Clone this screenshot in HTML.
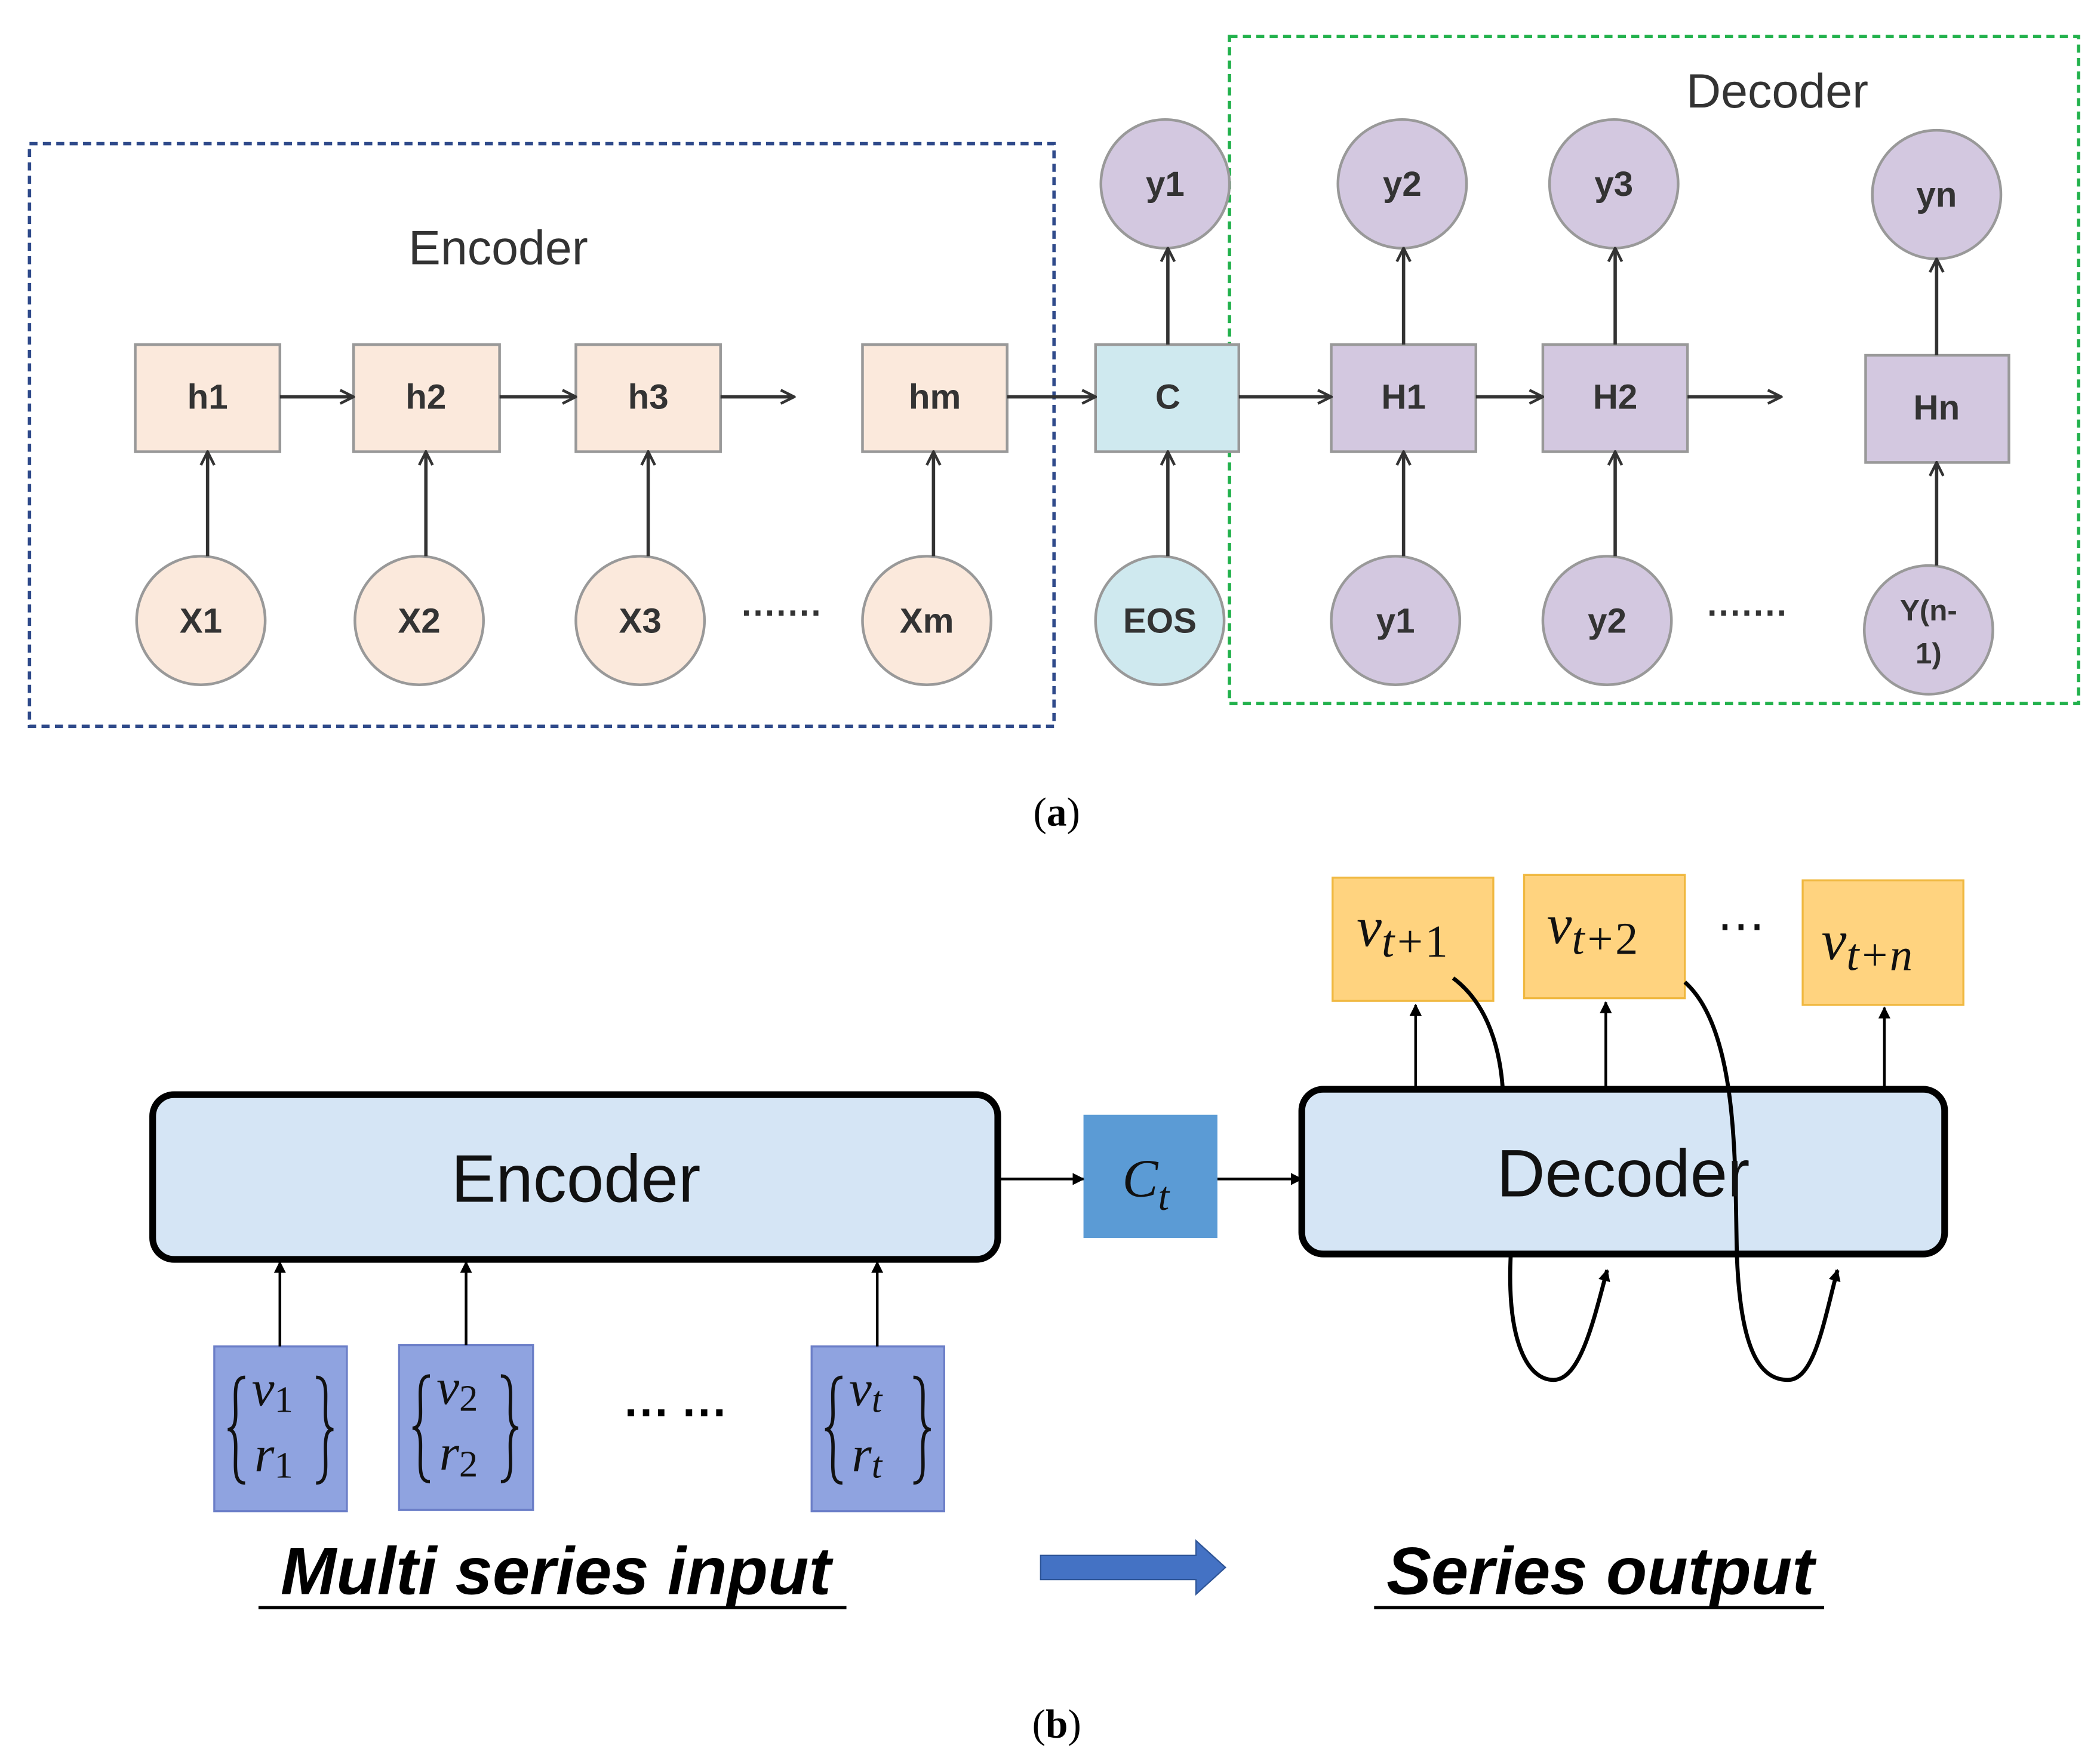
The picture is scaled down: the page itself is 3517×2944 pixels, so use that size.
<!DOCTYPE html>
<html><head><meta charset="utf-8"><style>
html,body{margin:0;padding:0;background:#fff;}
svg{display:block;}
</style></head><body>
<svg width="3517" height="2944" viewBox="0 0 1568 1312" xmlns="http://www.w3.org/2000/svg">
<defs>
<marker id="a" viewBox="0 0 12 12" refX="11" refY="6" markerWidth="12" markerHeight="12" markerUnits="userSpaceOnUse" orient="auto">
<path d="M1,1 L11,6 L1,11" fill="none" stroke="#333" stroke-width="2"/></marker>
<marker id="b" viewBox="0 0 10 10" refX="9" refY="5" markerWidth="9" markerHeight="9" markerUnits="userSpaceOnUse" orient="auto">
<path d="M0,0 L10,5 L0,10 z" fill="#000"/></marker>
<path id="lb" d="M183,1028 C174,1028 176,1040 176,1055 C176,1064 174,1067 170,1067 C174,1067 176,1070 176,1080 C176,1095 174,1107 183,1107" fill="none" stroke="#111" stroke-width="2.5"/>
<path id="rb" d="M236,1028 C245,1028 243,1040 243,1055 C243,1064 245,1067 249,1067 C245,1067 243,1070 243,1080 C243,1095 245,1107 236,1107" fill="none" stroke="#111" stroke-width="2.5"/>
</defs>
<rect width="1568" height="1312" fill="#fff"/>
<!-- (a) -->
<rect x="22" y="107" width="765" height="435" fill="none" stroke="#2f4a8a" stroke-width="2.5" stroke-dasharray="6,4"/>
<rect x="918" y="27" width="634" height="498" fill="none" stroke="#22b14c" stroke-width="2.5" stroke-dasharray="6,4"/>
<g font-family="Liberation Sans, sans-serif" fill="#333">
<text x="372" y="197" font-size="36" text-anchor="middle">Encoder</text>
<text x="1327" y="80" font-size="36" text-anchor="middle">Decoder</text>
</g>
<g stroke="#999" stroke-width="2">
<rect x="101" y="257" width="108" height="80" fill="#fbe9dc"/>
<rect x="264" y="257" width="109" height="80" fill="#fbe9dc"/>
<rect x="430" y="257" width="108" height="80" fill="#fbe9dc"/>
<rect x="644" y="257" width="108" height="80" fill="#fbe9dc"/>
<rect x="818" y="257" width="107" height="80" fill="#cfe9ef"/>
<rect x="994" y="257" width="108" height="80" fill="#d3c8e0"/>
<rect x="1152" y="257" width="108" height="80" fill="#d3c8e0"/>
<rect x="1393" y="265" width="107" height="80" fill="#d3c8e0"/>
<circle cx="150" cy="463" r="48" fill="#fbe9dc"/>
<circle cx="313" cy="463" r="48" fill="#fbe9dc"/>
<circle cx="478" cy="463" r="48" fill="#fbe9dc"/>
<circle cx="692" cy="463" r="48" fill="#fbe9dc"/>
<circle cx="866" cy="463" r="48" fill="#cfe9ef"/>
<circle cx="1042" cy="463" r="48" fill="#d3c8e0"/>
<circle cx="1200" cy="463" r="48" fill="#d3c8e0"/>
<circle cx="1440" cy="470" r="48" fill="#d3c8e0"/>
<circle cx="870" cy="137" r="48" fill="#d3c8e0"/>
<circle cx="1047" cy="137" r="48" fill="#d3c8e0"/>
<circle cx="1205" cy="137" r="48" fill="#d3c8e0"/>
<circle cx="1446" cy="145" r="48" fill="#d3c8e0"/>
</g>
<g stroke="#333" stroke-width="2.5" marker-end="url(#a)">
<line x1="209" y1="296" x2="264" y2="296"/>
<line x1="373" y1="296" x2="430" y2="296"/>
<line x1="538" y1="296" x2="593" y2="296"/>
<line x1="752" y1="296" x2="818" y2="296"/>
<line x1="925" y1="296" x2="994" y2="296"/>
<line x1="1102" y1="296" x2="1152" y2="296"/>
<line x1="1260" y1="296" x2="1330" y2="296"/>
<line x1="155" y1="415" x2="155" y2="337"/>
<line x1="318" y1="415" x2="318" y2="337"/>
<line x1="484" y1="415" x2="484" y2="337"/>
<line x1="697" y1="415" x2="697" y2="337"/>
<line x1="872" y1="415" x2="872" y2="337"/>
<line x1="1048" y1="415" x2="1048" y2="337"/>
<line x1="1206" y1="415" x2="1206" y2="337"/>
<line x1="1446" y1="422" x2="1446" y2="345"/>
<line x1="872" y1="257" x2="872" y2="185"/>
<line x1="1048" y1="257" x2="1048" y2="185"/>
<line x1="1206" y1="257" x2="1206" y2="185"/>
<line x1="1446" y1="265" x2="1446" y2="193"/>
</g>
<g font-family="Liberation Sans, sans-serif" font-weight="bold" font-size="26" fill="#333" text-anchor="middle">
<text x="155" y="305">h1</text><text x="318" y="305">h2</text><text x="484" y="305">h3</text><text x="698" y="305">hm</text>
<text x="872" y="305">C</text><text x="1048" y="305">H1</text><text x="1206" y="305">H2</text><text x="1446" y="313">Hn</text>
<text x="150" y="472">X1</text><text x="313" y="472">X2</text><text x="478" y="472">X3</text><text x="692" y="472">Xm</text>
<text x="866" y="472">EOS</text><text x="1042" y="472">y1</text><text x="1200" y="472">y2</text>
<text x="1440" y="463" font-size="22">Y(n-</text><text x="1440" y="495" font-size="22">1)</text>
<text x="870" y="146">y1</text><text x="1047" y="146">y2</text><text x="1205" y="146">y3</text><text x="1446" y="154">yn</text>
<text x="584" y="466">·······</text><text x="1305" y="466">·······</text>
</g>
<text x="789" y="616" font-family="Liberation Serif, serif" font-size="30" text-anchor="middle">(<tspan font-weight="bold">a</tspan>)</text>
<!-- (b) -->
<rect x="114" y="817" width="631" height="123" rx="16" fill="#d5e5f5" stroke="#000" stroke-width="5"/>
<rect x="972" y="813" width="480" height="123" rx="16" fill="#d5e5f5" stroke="#000" stroke-width="5"/>
<rect x="809" y="832" width="100" height="92" fill="#5b9bd5"/>
<g fill="#ffd37f" stroke="#f0b840" stroke-width="1.5">
<rect x="995" y="655" width="120" height="92"/>
<rect x="1138" y="653" width="120" height="92"/>
<rect x="1346" y="657" width="120" height="93"/>
</g>
<g fill="#8fa3e0" stroke="#6c7fc8" stroke-width="1.5">
<rect x="160" y="1005" width="99" height="123"/>
<rect x="298" y="1004" width="100" height="123"/>
<rect x="606" y="1005" width="99" height="123"/>
</g>
<g stroke="#000" stroke-width="2" marker-end="url(#b)">
<line x1="747" y1="880" x2="809" y2="880"/>
<line x1="909" y1="880" x2="972" y2="880"/>
<line x1="1057" y1="811" x2="1057" y2="750"/>
<line x1="1199" y1="811" x2="1199" y2="748"/>
<line x1="1407" y1="811" x2="1407" y2="752"/>
<line x1="209" y1="1005" x2="209" y2="942"/>
<line x1="348" y1="1004" x2="348" y2="942"/>
<line x1="655" y1="1005" x2="655" y2="942"/>
</g>
<g fill="none" stroke="#000" stroke-width="3">
<path d="M1085,730 C1112,750 1120,785 1122,812"/>
<path d="M1128,937 C1125,1000 1140,1030 1160,1030 C1180,1030 1190,985 1200,948" marker-end="url(#b)"/>
<path d="M1258,733 C1300,770 1295,880 1297,940 C1300,1010 1315,1030 1335,1030 C1355,1030 1362,985 1372,948" marker-end="url(#b)"/>
</g>
<g font-family="Liberation Sans, sans-serif" fill="#111" text-anchor="middle" font-size="50">
<text x="430" y="897">Encoder</text>
<text x="1212" y="893">Decoder</text>
</g>
<g font-family="Liberation Serif, serif" font-style="italic" fill="#111">
<text x="838" y="893" font-size="40">C<tspan font-size="30" dy="10">t</tspan></text>
<text x="1013" y="706" font-size="42">v<tspan font-size="34" dy="8">t+<tspan font-style="normal">1</tspan></tspan></text>
<text x="1155" y="704" font-size="42">v<tspan font-size="34" dy="8">t+<tspan font-style="normal">2</tspan></tspan></text>
<text x="1360" y="716" font-size="42">v<tspan font-size="34" dy="8">t+n</tspan></text>
<text x="1300" y="703" font-size="36" font-style="normal" text-anchor="middle">⋯</text>
<g font-size="38">
<text x="188" y="1049">v<tspan font-size="28" dy="5" font-style="normal">1</tspan></text><text x="190" y="1098">r<tspan font-size="28" dy="5" font-style="normal">1</tspan></text>
<text x="326" y="1048">v<tspan font-size="28" dy="5" font-style="normal">2</tspan></text><text x="328" y="1097">r<tspan font-size="28" dy="5" font-style="normal">2</tspan></text>
<text x="634" y="1049">v<tspan font-size="28" dy="5">t</tspan></text><text x="636" y="1098">r<tspan font-size="28" dy="5">t</tspan></text>
</g>
</g>
<use href="#lb"/><use href="#rb"/>
<use href="#lb" transform="translate(138,-1)"/><use href="#rb" transform="translate(138,-1)"/>
<use href="#lb" transform="translate(446,0)"/><use href="#rb" transform="translate(446,0)"/>
<text x="505" y="1066" font-family="Liberation Sans, sans-serif" font-size="34" font-weight="bold" text-anchor="middle">··· ···</text>
<g font-family="Liberation Sans, sans-serif" font-style="italic" font-weight="bold" font-size="50" fill="#000" text-anchor="middle">
<text x="415" y="1190">Multi series input</text>
<text x="1195" y="1190">Series output</text>
</g>
<line x1="193" y1="1200" x2="632" y2="1200" stroke="#000" stroke-width="2.5"/>
<line x1="1026" y1="1200" x2="1362" y2="1200" stroke="#000" stroke-width="2.5"/>
<path d="M777,1161 L893,1161 L893,1150 L915,1170 L893,1190 L893,1179 L777,1179 z" fill="#4472c4" stroke="#2f5597" stroke-width="1"/>
<text x="789" y="1297" font-family="Liberation Serif, serif" font-size="30" text-anchor="middle">(<tspan font-weight="bold">b</tspan>)</text>
</svg>
</body></html>
